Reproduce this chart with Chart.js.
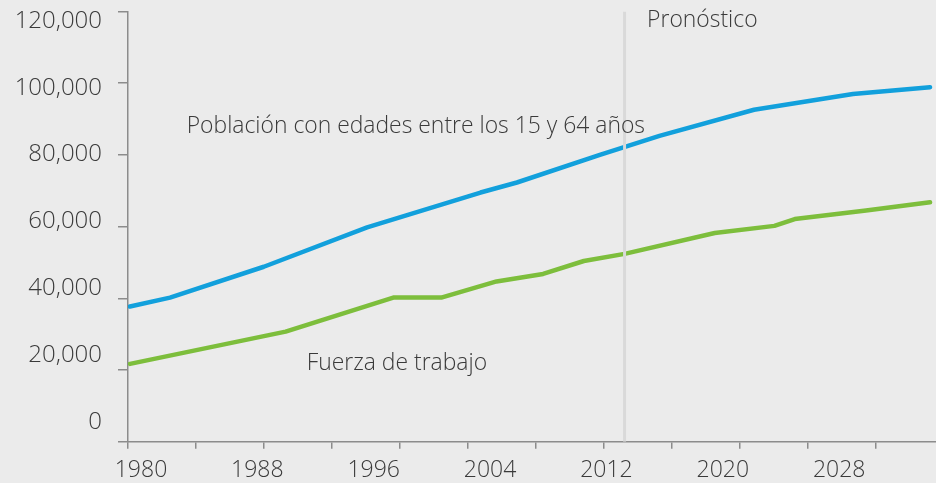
<!DOCTYPE html>
<html>
<head>
<meta charset="utf-8">
<script src="https://cdn.jsdelivr.net/npm/chart.js@4/dist/chart.umd.min.js"></script>
<style>
  html, body { margin: 0; padding: 0; background: #ebebeb; }
  canvas { display: block; }
</style>
</head>
<body>
<canvas id="c" width="936" height="483"></canvas>
<script>
// ---- Data ----
const YEARS_POP = [1980, 1982.75, 1989.2, 1996.3, 2004.1, 2006.6, 2012.3, 2016.4, 2022.9, 2029.7, 2035];
const POP_15_64 = [37700, 40200, 48800, 59800, 69500, 72300, 80000, 85300, 92600, 97000, 98900];

const YEARS_LAB = [1980, 1990.7, 1998.1, 2001.4, 2005.2, 2008.4, 2011.2, 2014.0, 2020.2, 2024.3, 2025.7, 2030.6, 2035];
const LABOR_FORCE = [21700, 30700, 40200, 40200, 44700, 46800, 50400, 52400, 58200, 60200, 62100, 64500, 66800];

const TICK_YEARS = [1980, 1988, 1996, 2004, 2012, 2020, 2028];
const Y_TICKS = [0, 20000, 40000, 60000, 80000, 100000, 120000];
const MINOR_TICKS = [0, 1, 2, 3, 4, 5, 6, 7, 8, 9, 10, 11];
const FORECAST_YEAR = 2014;

const LABELS = [
  { text: 'Pronóstico', year: 2015.55, value: 115800 },
  { text: 'Población con edades entre los 15 y 64 años', year: 1983.9, value: 86000 },
  { text: 'Fuerza de trabajo', year: 1992.15, value: 20000 }
];

// ---- Styles ----
const BG = '#ebebeb';
const AXIS = '#8c8c8c';
const TEXT = '#3a3a3a';
const BLUE = '#12a0dc';
const GREEN = '#7dbe3c';
const FONT = '"Open Sans", "Noto Sans", sans-serif';

const fmt = v => String(Math.round(v)).replace(/\B(?=(\d{3})+(?!\d))/g, ',');
const pts = (xs, ys) => xs.map((x, i) => ({ x: x, y: ys[i] }));

const bgPlugin = {
  id: 'bg',
  beforeDraw(chart) {
    const ctx = chart.ctx;
    ctx.save();
    ctx.fillStyle = BG;
    ctx.fillRect(0, 0, chart.width, chart.height);
    ctx.restore();
  }
};

const textPlugin = {
  id: 'texts',
  afterDraw(chart) {
    const ctx = chart.ctx;
    const xs = chart.scales.x, ys = chart.scales.y;
    ctx.save();
    ctx.fillStyle = TEXT;
    ctx.font = '300 22.9px ' + FONT;
    ctx.textAlign = 'left';
    ctx.textBaseline = 'alphabetic';
    LABELS.forEach(l => {
      ctx.fillText(l.text, xs.getPixelForValue(l.year), ys.getPixelForValue(l.value));
    });
    ctx.restore();
  }
};

new Chart(document.getElementById('c'), {
  type: 'line',
  data: {
    datasets: [
      {
        label: 'Pronóstico',
        data: [{ x: FORECAST_YEAR, y: 0 }, { x: FORECAST_YEAR, y: 120000 }],
        borderColor: '#d9d9d9',
        borderWidth: 3,
        pointRadius: 0
      },
      {
        label: 'Población con edades entre los 15 y 64 años',
        data: pts(YEARS_POP, POP_15_64),
        borderColor: BLUE,
        borderWidth: 4.5,
        borderCapStyle: 'round',
        borderJoinStyle: 'round',
        pointRadius: 0,
        tension: 0
      },
      {
        label: 'Fuerza de trabajo',
        data: pts(YEARS_LAB, LABOR_FORCE),
        borderColor: GREEN,
        borderWidth: 4.5,
        borderCapStyle: 'round',
        borderJoinStyle: 'round',
        pointRadius: 0,
        tension: 0
      }
    ]
  },
  options: {
    responsive: false,
    devicePixelRatio: 1,
    animation: false,
    layout: { padding: { left: 10, top: 11.5, right: 0, bottom: 0 } },
    plugins: { legend: { display: false }, tooltip: { enabled: false } },
    scales: {
      x: {
        type: 'linear', position: 'bottom', weight: 1,
        min: 1979.8625, max: 2035.41,
        afterBuildTicks: s => { s.ticks = TICK_YEARS.map(v => ({ value: v })); },
        ticks: {
          font: { family: FONT, size: 23, weight: '300' }, color: TEXT, padding: 8, labelOffset: 11,
          autoSkip: false, maxRotation: 0, minRotation: 0,
          callback: v => String(v)
        },
        grid: { display: false, drawTicks: false },
        border: { display: false },
        afterFit: s => { s.height = 34.3; s.paddingLeft = 0; s.paddingRight = 0; }
      },
      xt: {
        type: 'linear', position: 'bottom', weight: 0,
        min: 0, max: 11.887,
        afterBuildTicks: s => { s.ticks = MINOR_TICKS.map(v => ({ value: v })); },
        ticks: { display: false },
        grid: { display: true, drawOnChartArea: false, drawTicks: true, tickLength: 7, color: AXIS, lineWidth: 1.5 },
        border: { display: true, color: AXIS, width: 1.5 },
        afterFit: s => { s.height = 7; s.paddingLeft = 0; s.paddingRight = 0; }
      },
      y: {
        type: 'linear', position: 'left', weight: 0,
        min: 0, max: 120000,
        afterBuildTicks: s => { s.ticks = Y_TICKS.map(v => ({ value: v })); },
        ticks: { display: false },
        grid: { display: true, drawOnChartArea: false, drawTicks: true, tickLength: 10, color: AXIS, lineWidth: 1.5 },
        border: { display: true, color: AXIS, width: 1.5 },
        afterFit: s => { s.width = 10; s.paddingTop = 0; s.paddingBottom = 0; }
      },
      yl: {
        type: 'linear', position: 'left', weight: 1,
        min: -5993, max: 122846,
        afterBuildTicks: s => { s.ticks = Y_TICKS.map(v => ({ value: v })); },
        ticks: { font: { family: FONT, size: 24, weight: '300' }, color: TEXT, padding: 16, callback: v => fmt(v) },
        grid: { display: false, drawTicks: false },
        border: { display: false },
        afterFit: s => { s.width = 108; s.paddingTop = 0; s.paddingBottom = 0; }
      }
    }
  },
  plugins: [bgPlugin, textPlugin]
});
</script>
</body>
</html>
